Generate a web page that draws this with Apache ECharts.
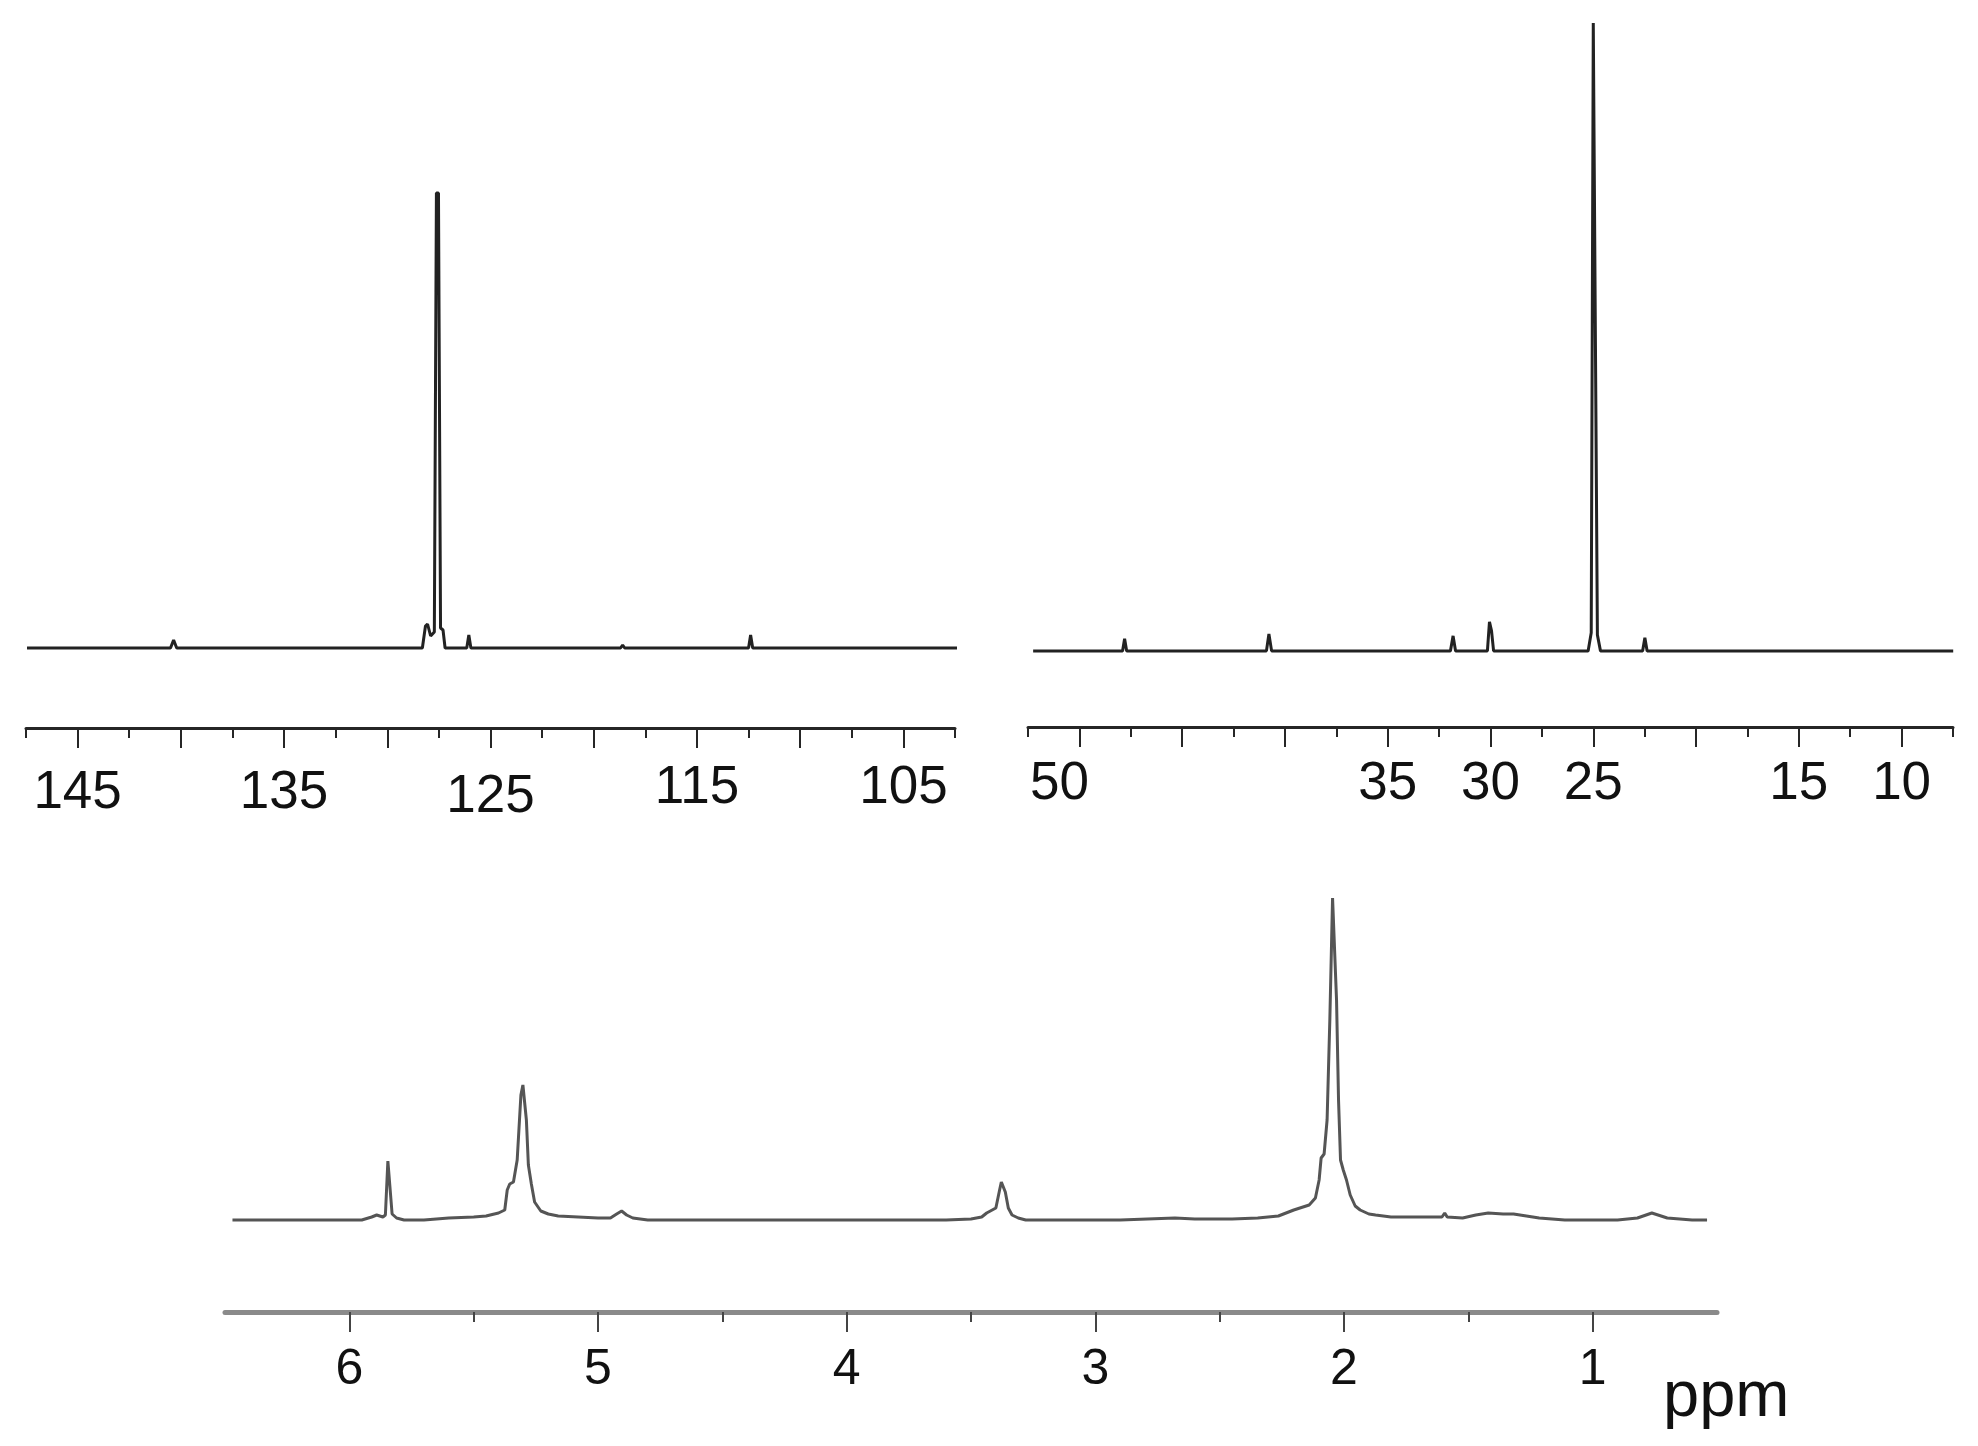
<!DOCTYPE html>
<html>
<head>
<meta charset="utf-8">
<script src="https://cdn.jsdelivr.net/npm/echarts@6/dist/echarts.min.js"></script>
<style>
html,body{margin:0;padding:0;background:#ffffff;}
#chart{width:1978px;height:1446px;}
</style>
</head>
<body>
<div id="chart"></div>
<script>
// ---- data (ppm, intensity in arbitrary units) ----
const c13OlefinicSpectrum = [
  [147.45,0],[140.5,0],[140.35,8],[140.2,0],
  [128.3,0],[128.15,22],[128.05,24],[127.9,12],[127.72,16],[127.62,455],[127.52,455],
  [127.42,20],[127.3,18],[127.2,0],
  [126.15,0],[126.05,13],[125.95,0],
  [118.7,0],[118.6,3],[118.5,0],
  [112.5,0],[112.4,13],[112.3,0],
  [102.2,0]
];
const c13AliphaticSpectrum = [
  [52.25,0],[47.9,0],[47.8,12],[47.7,0],
  [40.9,0],[40.78,17],[40.65,0],
  [31.95,0],[31.82,15],[31.7,0],
  [30.15,0],[30.05,29],[29.95,20],[29.85,0],
  [25.25,0],[25.1,18],[25.0,627],[24.92,627],[24.8,16],[24.65,0],
  [22.6,0],[22.49,13],[22.38,0],
  [7.49,0]
];
const h1Spectrum = [
  [6.47,0],[5.95,0],[5.91,3],[5.89,5],[5.865,3],[5.855,5],[5.845,59],[5.837,59],[5.828,6],[5.81,2],[5.78,0],
  [5.7,0],[5.6,2],[5.5,3],[5.45,4],[5.4,7],[5.375,10],[5.365,30],[5.355,36],[5.34,38],[5.325,60],
  [5.31,125],[5.302,135],[5.296,135],[5.288,100],[5.28,55],[5.268,36],[5.255,18],[5.23,9],[5.2,6],[5.16,4],
  [5.08,3],[5.0,2],[4.95,2],[4.925,6],[4.905,9],[4.885,5],[4.86,2],[4.8,0],
  [4.0,0],[3.6,0],[3.5,1],[3.457,3],[3.437,7],[3.40,12],[3.385,30],[3.378,38],[3.372,38],[3.362,28],[3.35,12],
  [3.335,5],[3.31,2],[3.28,0],
  [2.9,0],[2.68,2],[2.6,1],[2.45,1],[2.347,2],[2.264,4],[2.202,10],[2.14,15],[2.115,22],[2.10,40],
  [2.092,62],[2.08,66],[2.068,100],[2.057,200],[2.046,322],[2.038,322],[2.03,220],[2.022,120],[2.014,60],
  [2.003,50],[1.99,40],[1.975,25],[1.955,14],[1.935,10],[1.9,6],[1.873,5],[1.811,3],[1.7,3],
  [1.606,3],[1.595,7],[1.585,3],[1.523,2],[1.47,5],[1.42,7],[1.36,6],[1.318,6],[1.215,2],[1.112,0],
  [0.9,0],[0.82,2],[0.762,7],[0.70,2],[0.6,0],[0.54,0]
];

// ---- axis ticks / labels ----
const olefinicRange = [102.5, 147.5];
const olefinicMajorTicks = [105,110,115,120,125,130,135,140,145];
const olefinicTickLabels = [105,115,125,135,145];
const aliphaticRange = [7.5, 52.5];
const aliphaticMajorTicks = [10,15,20,25,30,35,40,45,50];
const aliphaticTickLabels = [10,15,25,30,35,50];
const protonRange = [0.5, 6.5];
const protonMinorTicks = [1.5,2.5,3.5,4.5,5.5];
const protonMajorTicks = [1,2,3,4,5,6];
const protonTickLabels = [1,2,3,4,5,6];
const unitLabel = 'ppm';

const FONT = "'Liberation Sans', Arial, Helvetica, sans-serif";
const chart = echarts.init(document.getElementById('chart'), null, {renderer: 'canvas'});

const topLine = {show: true, onZero: false, lineStyle: {color: '#262626', width: 3}};
const bottomLine = {show: true, onZero: false, lineStyle: {color: '#8a8a8a', width: 5}};

function minorAxis(grid, range, interval, line, tickColor) {
  const ax = {
    type: 'value', gridIndex: grid, position: 'bottom', inverse: true,
    min: range[0], max: range[1],
    axisLine: line,
    axisTick: {show: true, length: 10, lineStyle: {color: tickColor, width: 2}},
    axisLabel: {show: false},
    splitLine: {show: false}
  };
  if (interval) ax.interval = interval;
  return ax;
}
function majorAxis(grid, range, ticks, labels, fontSize, margin, tickColor, rich, fmt) {
  return {
    type: 'value', gridIndex: grid, position: 'bottom', inverse: true,
    min: range[0], max: range[1],
    axisLine: {show: false, onZero: false},
    axisTick: {show: true, length: 20, customValues: ticks, lineStyle: {color: tickColor, width: 2}},
    axisLabel: {show: true, customValues: labels, fontSize: fontSize, fontFamily: FONT,
                color: '#111', margin: margin, rich: rich, formatter: fmt},
    splitLine: {show: false}
  };
}

const labelStyle = function (pad) {
  return {fontSize: 53, fontFamily: FONT, color: '#111', padding: pad};
};

const xAxes = [];
xAxes.push(minorAxis(0, olefinicRange, 2.5, topLine, '#262626'));
xAxes.push(majorAxis(0, olefinicRange, olefinicMajorTicks, olefinicTickLabels, 53, 34, '#262626',
  {a: labelStyle([5, 0, 0, 0]), b: labelStyle([9, 0, 0, 0]), c: labelStyle([0, 0, 0, 0])},
  function (v) { return (v === 125 ? '{b|' : (v > 125 ? '{a|' : '{c|')) + v + '}'; }));
xAxes.push(minorAxis(1, aliphaticRange, 2.5, topLine, '#262626'));
xAxes.push(majorAxis(1, aliphaticRange, aliphaticMajorTicks, aliphaticTickLabels, 53, 31, '#262626',
  {sh: labelStyle([0, 40, 0, 0])},
  function (v) { return v === 50 ? '{sh|50}' : String(v); }));
const protonMinor = minorAxis(2, protonRange, null, bottomLine, '#444');
protonMinor.axisTick.customValues = protonMinorTicks;
xAxes.push(protonMinor);
xAxes.push(majorAxis(2, protonRange, protonMajorTicks, protonTickLabels, 50, 33, '#444'));

const option = {
  animation: false,
  backgroundColor: '#ffffff',
  grid: [
    {left: 26, right: 1023, top: 193, bottom: 718},
    {left: 1028, right: 25, top: 23, bottom: 719},
    {left: 225, right: 261, top: 898, bottom: 134}
  ],
  xAxis: xAxes,
  yAxis: [
    {type: 'value', gridIndex: 0, min: -80, max: 455, show: false},
    {type: 'value', gridIndex: 1, min: -76, max: 627, show: false},
    {type: 'value', gridIndex: 2, min: -92, max: 322, show: false}
  ],
  series: [
    {type: 'line', xAxisIndex: 0, yAxisIndex: 0, data: c13OlefinicSpectrum, showSymbol: false, clip: false,
     lineStyle: {color: '#222', width: 3}},
    {type: 'line', xAxisIndex: 2, yAxisIndex: 1, data: c13AliphaticSpectrum, showSymbol: false, clip: false,
     lineStyle: {color: '#222', width: 3}},
    {type: 'line', xAxisIndex: 4, yAxisIndex: 2, data: h1Spectrum, showSymbol: false, clip: false,
     lineStyle: {color: '#555', width: 3}}
  ],
  graphic: [
    {type: 'text', left: 1663, top: 1366,
     style: {text: unitLabel, font: '65px ' + FONT, fill: '#111'}}
  ]
};
chart.setOption(option);
</script>
</body>
</html>
